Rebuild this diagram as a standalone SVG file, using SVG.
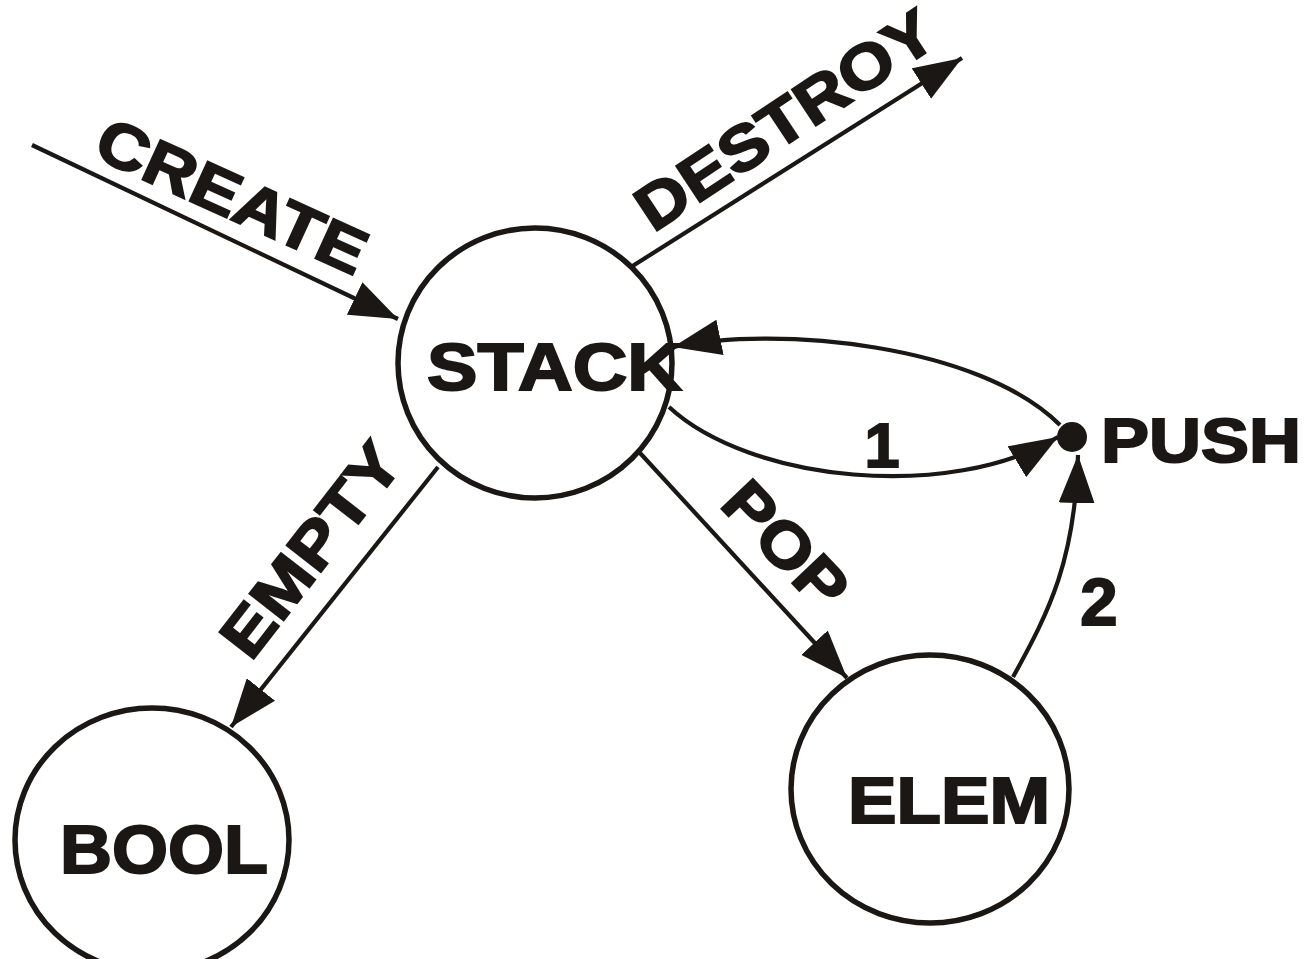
<svg xmlns="http://www.w3.org/2000/svg" width="1310" height="959" viewBox="0 0 1310 959">
<defs>
<style>
.node{fill:none;stroke:#1a1715;stroke-width:5.5}
.edge{fill:none;stroke:#1a1715;stroke-width:4.2}
.lbl{font-family:"Liberation Sans",Arial,sans-serif;font-weight:bold;fill:#1a1715;stroke:#1a1715;stroke-width:2}
</style>
<marker id="ah" viewBox="0 0 48 36" refX="48" refY="18" markerWidth="48" markerHeight="36" markerUnits="userSpaceOnUse" orient="auto">
<path d="M0,0 L48,18 L0,36 z" fill="#1a1715"/>
</marker>
</defs>
<rect width="1310" height="959" fill="#ffffff"/>
<g id="connectors">
<g id="e-create"><line class="edge" x1="32" y1="145" x2="398" y2="319" marker-end="url(#ah)"/>
<text class="lbl" font-size="63" text-anchor="middle" textLength="290" lengthAdjust="spacingAndGlyphs" transform="translate(223,216) rotate(24.5)">CREATE</text></g>
<g id="e-destroy"><line class="edge" x1="631" y1="267" x2="962" y2="58" marker-end="url(#ah)"/>
<text class="lbl" font-size="63" text-anchor="middle" textLength="345" lengthAdjust="spacingAndGlyphs" transform="translate(797,138) rotate(-33.5)">DESTROY</text></g>
<g id="e-empty"><line class="edge" x1="438" y1="467" x2="231" y2="727" marker-end="url(#ah)"/>
<text class="lbl" font-size="63" text-anchor="middle" textLength="252" lengthAdjust="spacingAndGlyphs" transform="translate(328,563) rotate(-52.2)">EMPTY</text></g>
<g id="e-pop"><line class="edge" x1="640" y1="453" x2="847" y2="678" marker-end="url(#ah)"/>
<text class="lbl" font-size="63" text-anchor="middle" textLength="150" lengthAdjust="spacingAndGlyphs" transform="translate(770,560) rotate(46.5)">POP</text></g>
<g id="e-push1"><path class="edge" d="M669,407 C750,482 950,502 1058,437" marker-end="url(#ah)"/>
<text class="lbl" font-size="63" text-anchor="middle" x="882" y="467">1</text></g>
<g id="e-push-back"><path class="edge" d="M1060,425 C980,345 780,325 673,347" marker-end="url(#ah)"/></g>
<g id="e-push2"><path class="edge" d="M1013,677 C1050,610 1075,560 1078,455" marker-end="url(#ah)"/>
<text class="lbl" font-size="67" text-anchor="middle" x="1099" y="625">2</text></g>
</g>
<g id="node-stack"><ellipse class="node" cx="535" cy="363" rx="137" ry="135"/>
<text class="lbl" font-size="67" x="427" y="390" textLength="255" lengthAdjust="spacingAndGlyphs">STACK</text></g>
<g id="node-bool"><ellipse class="node" cx="152" cy="840" rx="137" ry="132"/>
<text class="lbl" font-size="68" x="60" y="873" textLength="208" lengthAdjust="spacingAndGlyphs">BOOL</text></g>
<g id="node-elem"><ellipse class="node" cx="930" cy="789" rx="139" ry="134"/>
<text class="lbl" font-size="65" x="848" y="823" textLength="202" lengthAdjust="spacingAndGlyphs">ELEM</text></g>
<g id="node-push"><circle cx="1072" cy="437" r="15" fill="#1a1715"/>
<text class="lbl" font-size="63" x="1101" y="462" textLength="200" lengthAdjust="spacingAndGlyphs">PUSH</text></g>
</svg>
